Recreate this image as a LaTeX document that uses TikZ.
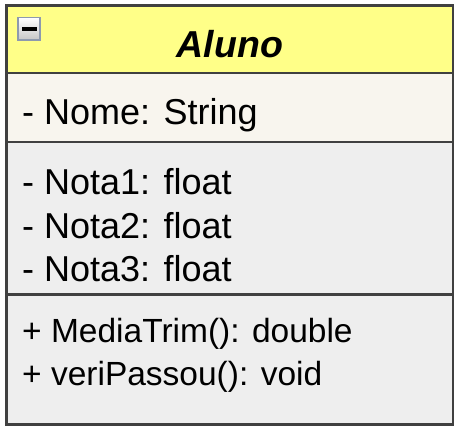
\documentclass[tikz,border=0pt]{standalone}
\usepackage{fontspec}
\setmainfont{Liberation Sans}
\begin{document}
\begin{tikzpicture}[x=1pt,y=-1pt,
  member/.style={anchor=base west,inner sep=0pt,font=\fontsize{36}{42}\selectfont},
  method/.style={anchor=base west,inner sep=0pt,font=\fontsize{33.5}{40}\selectfont},
  sep/.style={draw=border,line width=2.6pt},
  ]
\definecolor{border}{HTML}{404040}
\definecolor{headfill}{HTML}{FFFF88}
\definecolor{attrfill}{HTML}{F8F5EE}
\definecolor{bodyfill}{HTML}{EEEEEE}
\definecolor{iconedge}{HTML}{8E9AAE}
\useasboundingbox (0,0) rectangle (456,426);
\fill[white] (0,0) rectangle (456,426);
% sections
\fill[headfill] (6.5,5.5) rectangle (453,72.8);
\fill[attrfill] (6.5,72.8) rectangle (453,142);
\fill[bodyfill] (6.5,142) rectangle (453,424.3);
\draw[sep] (6.5,72.8) -- (453,72.8);
\draw[sep] (6.5,142) -- (453,142);
\draw[sep] (6.5,294.5) -- (453,294.5);
\draw[draw=border,line width=2.6pt] (6.5,5.5) rectangle (453,424.3);
% collapse icon
\shade[top color=white,bottom color=gray!45,draw=iconedge,line width=1.4pt] (18,17.5) rectangle (40,40);
\fill[black] (22,26.8) rectangle (36.5,30.5);
% texts
\node[anchor=base,inner sep=0pt,font=\fontsize{37.5}{42}\selectfont\bfseries\itshape] (title) at (230,57.7) {Aluno};
\node[member] (nome) at (22,124.3) {- Nome: String};
\node[member] (n1) at (22,194.3) {- Nota1: float};
\node[member] (n2) at (22,238.2) {- Nota2: float};
\node[member] (n3) at (22,281.8) {- Nota3: float};
\node[method] (m1) at (22,342.7) {+ MediaTrim(): double};
\node[method] (m2) at (22,385) {+ veriPassou(): void};
\end{tikzpicture}
\end{document}
